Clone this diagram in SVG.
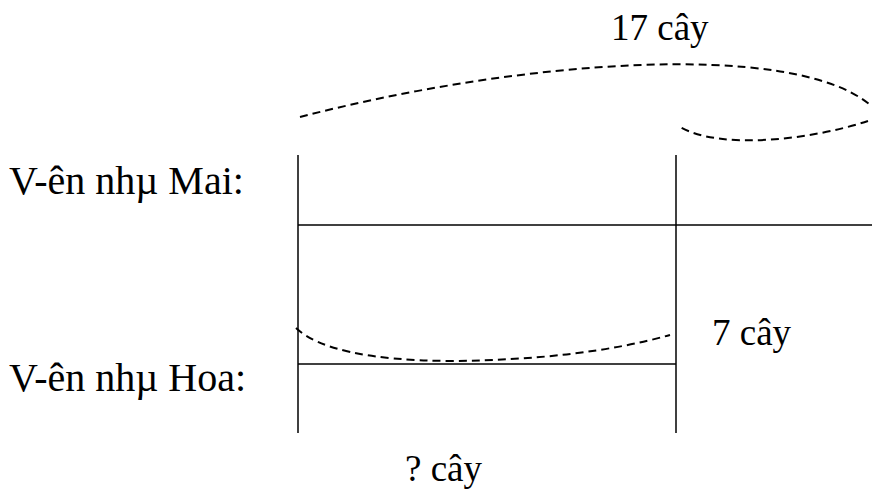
<svg xmlns="http://www.w3.org/2000/svg" width="872" height="499" viewBox="0 0 872 499">
<style>
.t{font-family:"Liberation Serif","Times New Roman",serif;font-size:37px;fill:#000}
.lab{font-size:40px}
.ln{stroke:#000;stroke-width:1.5;fill:none}
.ds{stroke:#000;stroke-width:2;fill:none;stroke-dasharray:8 5}
</style>
<rect width="872" height="499" fill="#fff"/>
<g id="labels">
<text class="t lab" x="9" y="194">V-ên nhµ Mai:</text>
<text class="t lab" x="9" y="391">V-ên nhµ Hoa:</text>
<text class="t" x="611" y="40">17 cây</text>
<text class="t" x="712" y="345">7 cây</text>
<text class="t" x="405" y="481">? cây</text>
</g>
<g id="bars">
<line class="ln" x1="298" y1="155" x2="298" y2="433"/>
<line class="ln" x1="676" y1="155" x2="676" y2="433"/>
<line class="ln" x1="298" y1="225" x2="872" y2="225"/>
<line class="ln" x1="298" y1="364" x2="676" y2="364" stroke="#555"/>
</g>
<g id="connectors">
<path class="ds" d="M300,117 C520,60 790,40 869,104"/>
<path class="ds" d="M868,121 C810,140 720,150 680,127"/>
<path class="ds" d="M296,328 Q330,360 450,361 Q580,360 670,335"/>
</g>
</svg>
